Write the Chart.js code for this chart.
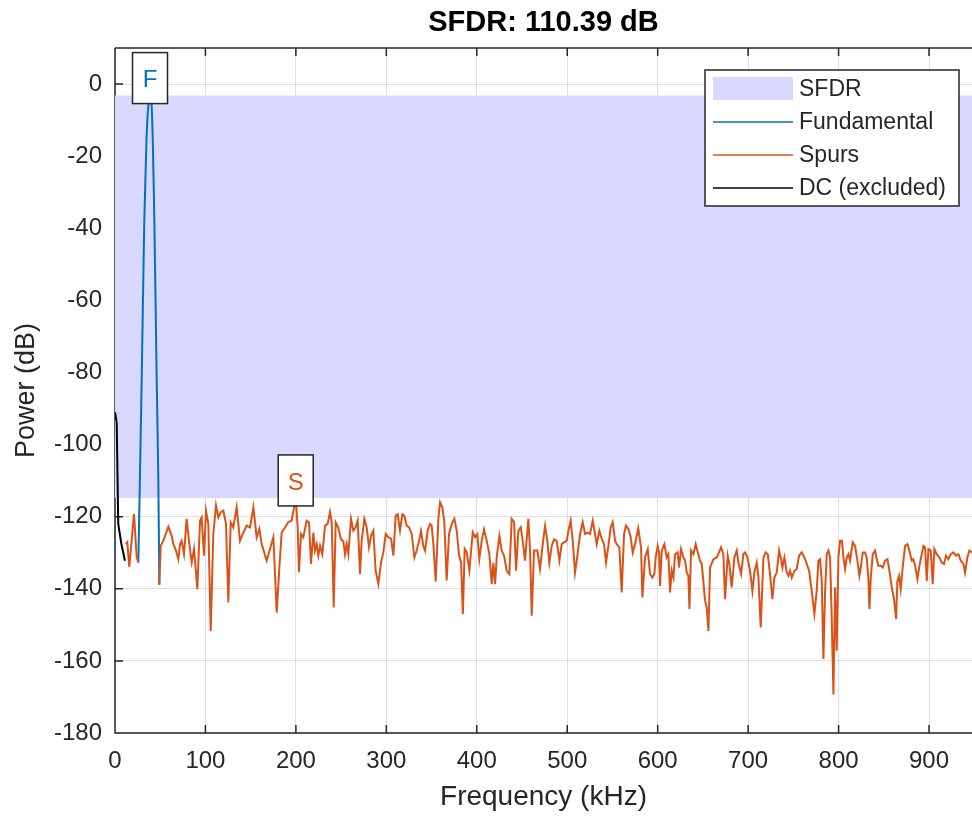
<!DOCTYPE html>
<html>
<head>
<meta charset="utf-8">
<script src="https://cdn.jsdelivr.net/npm/chart.js@4"></script>
<style>
  body { margin: 0; background: #fff; }
  canvas { display: block; }
</style>
</head>
<body>
<canvas id="sfdrChart" width="972" height="817"></canvas>
<script>
const titleText = 'SFDR: 110.39 dB';
const xTicks = [0, 100, 200, 300, 400, 500, 600, 700, 800, 900];
const yTicks = [-180, -160, -140, -120, -100, -80, -60, -40, -20, 0];

// DC (excluded)
const dcFreq = [0, 1.9, 3.6, 7.0, 11.0];
const dcPower = [-91, -94, -122, -127.5, -132.2];

// Fundamental lobe
const fundFreq = [25.8, 27.1, 29.5, 32.4, 34.8, 37.0, 38.7, 40.4, 42.0, 43.5, 46.1, 47.9, 49.0];
const fundPower = [-132.7, -115.4, -82.1, -37.7, -15.5, -5.5, -3.2, -5.5, -18.2, -37.7, -82.1, -109.9, -138.9];

// Spurs (null = bins of the fundamental)
const spurFreq = [12.0, 13.6, 15.8, 18.4, 21.0, 24.0, 25.8, 37.0,
  49.0, 50.5, 53.4, 59.0, 62.7, 64.5, 67.4, 70.0, 71.9, 73.7, 76.3, 79.2, 82.2, 84.8, 87.4, 91.0, 94.0, 95.8, 98.4,
  100.6, 103.2, 105.8, 108.7, 111.7, 114.3, 116.8, 119.8, 122.7, 125.3, 127.9, 130.8, 134.5, 138.2, 141.9, 145.6,
  149.3, 153.0, 156.6, 159.6, 162.2, 167.7, 175.1, 178.8, 181.7, 184.3, 188.0, 191.7, 195.3, 199.8, 202.0, 203.4,
  205.7, 208.2, 211.9, 214.5, 216.7, 219.3, 221.1, 223.0, 224.8, 226.7, 229.2, 232.2, 235.1, 237.7, 239.6, 241.8,
  244.0, 246.9, 249.9, 252.5, 254.3, 256.2, 258.0, 260.9, 263.5, 266.1, 268.3, 270.9, 272.7, 275.7, 278.3, 280.8,
  283.1, 285.6, 288.2, 291.2, 294.1, 296.7, 299.3, 302.2, 305.2, 307.8, 310.3, 312.5, 315.1, 317.7, 319.9, 322.5,
  325.1, 328.0, 331.0, 333.6, 336.1, 338.3, 340.9, 342.8, 345.7, 348.3, 350.1, 352.0, 354.6, 357.5, 359.4, 361.9,
  364.1, 366.7, 369.3, 372.3, 375.2, 377.8, 380.4, 382.6, 384.6, 386.6, 388.8, 391.8, 395.5, 398.1, 400.6, 402.8,
  405.4, 408.0, 411.0, 413.9, 416.5, 418.3, 420.2, 422.0, 425.0, 427.5, 430.1, 433.1, 436.0, 438.6, 441.2, 443.4,
  446.0, 448.6, 450.8, 453.3, 457.0, 458.9, 460.7, 463.3, 467.0, 469.9, 472.9, 475.5, 478.0, 480.2, 482.8, 485.4,
  488.4, 491.3, 493.9, 496.5, 499.4, 501.3, 503.8, 506.1, 508.6, 511.2, 514.2, 517.1, 519.7, 522.3, 525.2, 528.2,
  530.7, 532.6, 535.5, 538.1, 540.7, 542.9, 545.5, 548.1, 550.3, 552.9, 554.7, 557.6, 560.2, 562.8, 565.0, 567.6,
  570.2, 572.4, 575.0, 578.5, 581.6, 583.1, 586.0, 589.0, 591.5, 594.1, 596.3, 597.8, 600.0, 601.5, 602.6, 604.5,
  607.4, 610.0, 611.8, 613.7, 615.5, 617.4, 619.2, 622.1, 623.6, 625.8, 628.4, 630.3, 632.1, 633.9, 635.1, 636.9,
  639.5, 642.0, 644.3, 646.8, 648.7, 652.4, 654.2, 656.1, 657.9, 661.6, 665.3, 667.8, 670.1, 672.6, 674.5, 677.4,
  679.3, 681.8, 684.8, 687.4, 689.2, 692.2, 694.7, 696.6, 699.2, 702.1, 704.7, 706.9, 709.5, 711.3, 713.9, 716.9,
  719.4, 721.7, 724.2, 726.8, 729.0, 731.6, 734.2, 736.4, 737.9, 740.1, 742.7, 744.5, 746.3, 748.2, 751.1, 753.7,
  756.3, 759.2, 762.2, 764.8, 767.4, 770.3, 773.2, 775.8, 777.7, 779.5, 781.4, 783.2, 785.1, 786.9, 788.7, 790.6,
  792.4, 794.3, 796.1, 797.9, 799.8, 801.6, 803.8, 805.3, 807.2, 809.0, 810.9, 812.7, 815.6, 818.2, 820.8, 823.0,
  824.5, 826.7, 829.3, 831.1, 833.0, 834.1, 835.6, 837.8, 840.3, 842.2, 844.0, 846.6, 848.8, 851.4, 854.0, 856.2,
  858.8, 861.3, 863.6, 865.0, 866.9, 868.7, 870.9, 873.5, 876.1, 878.3, 880.9, 882.7, 884.6, 887.2, 889.4, 891.9,
  893.8, 895.6, 897.5, 899.3, 901.9, 904.1, 905.9, 908.5, 911.5, 914.0, 916.6, 918.8, 921.4, 924.0, 926.9, 929.9,
  932.5, 935.1, 938.0, 939.8, 942.4, 944.6, 947.2, 950.0];
const spurPower = [-127.6, -127.1, -133.9, -126.7, -119.3, -131.3, -132.7, null,
  -138.9, -128.1, -126.7, -122.8, -125.3, -127.6, -129.4, -131.8, -127.6, -126.7, -130.4, -120.6, -127.6, -132.7, -129.0, -140.1, -121.1, -120.2, -130.8,
  -118.3, -122.0, -151.7, -124.8, -116.9, -120.2, -118.8, -118.3, -122.0, -143.8, -121.6, -123.0, -117.4, -126.7, -124.4, -122.5,
  -123.0, -117.4, -125.7, -123.4, -127.6, -132.2, -125.7, -146.6, -134.1, -124.4, -123.0, -121.5, -121.1, -114.8, -123.0, -135.4,
  -124.8, -125.7, -121.1, -121.6, -133.1, -124.4, -129.4, -127.6, -130.8, -128.1, -130.4, -122.5, -122.0, -118.7, -121.5, -145.2,
  -121.6, -123.0, -126.3, -126.8, -130.4, -127.6, -130.4, -120.6, -123.9, -122.9, -121.1, -135.9, -126.7, -120.6, -123.0, -128.5,
  -125.3, -123.9, -135.0, -138.7, -132.7, -129.9, -124.8, -125.7, -126.1, -130.8, -119.7, -119.3, -123.9, -119.3, -119.7, -122.5,
  -123.0, -124.8, -131.3, -129.4, -126.7, -123.9, -128.1, -129.4, -123.9, -122.0, -122.5, -127.6, -138.0, -120.6, -116.0, -117.4,
  -121.5, -137.7, -124.8, -122.0, -120.6, -123.9, -130.8, -132.7, -147.0, -128.9, -129.8, -134.9, -124.3, -125.7, -124.8, -131.7,
  -126.7, -123.5, -126.7, -130.4, -138.7, -132.8, -138.7, -131.3, -125.3, -129.4, -130.8, -135.0, -135.9, -120.6, -121.5, -135.0,
  -123.9, -122.9, -126.7, -132.2, -120.6, -129.4, -147.5, -129.4, -129.4, -134.5, -127.6, -122.5, -126.7, -132.8, -128.1, -126.3,
  -126.7, -132.2, -127.6, -127.1, -126.7, -123.9, -121.1, -126.7, -135.5, -130.8, -124.8, -121.5, -124.8, -124.4, -124.8, -121.1,
  -124.8, -127.6, -123.9, -126.1, -127.6, -132.7, -128.1, -123.0, -121.5, -126.7, -127.6, -128.5, -141.0, -124.8, -122.5, -123.4,
  -125.7, -130.0, -127.6, -123.2, -128.5, -142.4, -131.3, -129.0, -135.9, -136.9, -135.9, -131.3, -128.1, -129.9, -139.2, -129.4,
  -127.6, -131.3, -130.4, -141.0, -135.0, -136.9, -130.4, -129.9, -134.1, -129.0, -131.3, -132.2, -135.5, -136.4, -145.6, -129.4,
  -130.4, -127.6, -129.9, -132.2, -133.1, -143.3, -145.2, -151.7, -134.1, -131.8, -131.3, -129.9, -128.5, -130.4, -142.9, -130.8,
  -133.1, -139.6, -131.3, -129.4, -132.7, -135.9, -130.4, -129.9, -131.3, -135.0, -140.6, -135.5, -132.7, -136.4, -150.7, -131.3,
  -129.9, -130.4, -135.9, -142.9, -136.9, -135.5, -129.4, -131.8, -134.1, -131.3, -135.5, -136.4, -135.0, -136.9, -135.0, -134.5,
  -130.8, -129.9, -131.3, -133.1, -135.0, -140.6, -147.0, -140.6, -132.2, -131.8, -137.8, -159.5, -140.6, -130.4, -129.4, -131.3,
  -148.0, -169.3, -139.6, -157.2, -131.3, -126.7, -126.7, -131.3, -134.5, -131.3, -130.4, -132.2, -127.1, -128.1, -132.2, -136.4,
  -134.1, -129.9, -129.9, -131.3, -137.3, -145.6, -136.9, -130.4, -129.4, -131.8, -133.6, -133.6, -134.1, -132.2, -131.8, -135.0,
  -139.6, -142.9, -148.4, -137.8, -136.4, -140.1, -134.1, -128.1, -127.6, -129.4, -132.2, -131.8, -133.6, -137.3, -133.6, -130.4,
  -128.1, -128.5, -137.8, -129.0, -129.4, -138.7, -129.0, -130.4, -131.3, -132.7, -133.1, -130.8, -131.8, -130.4, -129.9, -130.8,
  -130.4, -132.2, -133.1, -135.5, -131.3, -129.4, -129.9, -129.5];

// SFDR band and the two markers
const fundMarker = { freq: 38.7, power: -3.2, label: 'F' };
const spurMarker = { freq: 199.8, power: -114.8, label: 'S' };
const xMax = 947.5;

const FONT = '"Liberation Sans", Arial, Helvetica, sans-serif';
const AXIS = '#262626';
const BLUE = 'rgb(0,114,189)';
const ORANGE = 'rgb(217,83,25)';
const BAND = 'rgb(217,217,255)';

const toPts = (xs, ys) => xs.map((x, i) => ({ x: x, y: ys[i] }));

const decor = {
  id: 'decor',
  beforeDatasetsDraw(chart) {
    const { ctx, chartArea: a, scales: { x, y } } = chart;
    ctx.save();
    ctx.strokeStyle = AXIS;
    ctx.lineWidth = 1.5;
    ctx.beginPath();
    ctx.moveTo(a.left, a.top); ctx.lineTo(a.right, a.top);
    ctx.moveTo(a.left, a.top); ctx.lineTo(a.left, a.bottom);
    ctx.lineTo(a.right, a.bottom);
    xTicks.forEach(v => {
      const px = x.getPixelForValue(v);
      ctx.moveTo(px, a.bottom); ctx.lineTo(px, a.bottom - 8);
      ctx.moveTo(px, a.top); ctx.lineTo(px, a.top + 8);
    });
    yTicks.forEach(v => {
      const py = y.getPixelForValue(v);
      ctx.moveTo(a.left, py); ctx.lineTo(a.left + 8, py);
    });
    ctx.stroke();
    ctx.restore();
  },
  afterDatasetsDraw(chart) {
    const { ctx, chartArea: a, scales: { x, y } } = chart;
    ctx.save();
    // markers
    [[fundMarker, BLUE], [spurMarker, ORANGE]].forEach(([m, col]) => {
      const px = x.getPixelForValue(m.freq);
      const py = y.getPixelForValue(m.power);
      ctx.fillStyle = '#fff';
      ctx.fillRect(px - 17.5, py - 43, 35, 51);
      ctx.strokeStyle = AXIS;
      ctx.lineWidth = 1.5;
      ctx.strokeRect(px - 17.5, py - 43, 35, 51);
      ctx.fillStyle = col;
      ctx.font = '24px ' + FONT;
      ctx.textAlign = 'center';
      ctx.textBaseline = 'middle';
      ctx.fillText(m.label, px, py - 15);
    });
    // legend
    const lx = 705, ly = 70, lw = 254, lh = 136;
    ctx.fillStyle = '#fff';
    ctx.fillRect(lx, ly, lw, lh);
    ctx.strokeStyle = AXIS;
    ctx.lineWidth = 1.5;
    ctx.strokeRect(lx, ly, lw, lh);
    const items = chart.data.datasets.map(d => d).sort((p, q) => p.legendRank - q.legendRank);
    const rowY = [89, 122, 155, 188];
    ctx.font = '23px ' + FONT;
    ctx.textAlign = 'left';
    ctx.textBaseline = 'middle';
    items.forEach((d, i) => {
      const ry = rowY[i];
      if (d.legendRank === 0) {
        ctx.fillStyle = d.backgroundColor;
        ctx.fillRect(lx + 8, ry - 12, 80, 23);
      } else {
        ctx.strokeStyle = d.borderColor;
        ctx.lineWidth = 1.5;
        ctx.beginPath();
        ctx.moveTo(lx + 8, ry); ctx.lineTo(lx + 88, ry);
        ctx.stroke();
      }
      ctx.fillStyle = AXIS;
      ctx.fillText(d.label, lx + 94, ry + 1);
    });
    // title
    ctx.fillStyle = '#000';
    ctx.font = 'bold 29px ' + FONT;
    ctx.textAlign = 'center';
    ctx.fillText(titleText, (a.left + a.right) / 2, 23);
    ctx.restore();
  }
};

new Chart(document.getElementById('sfdrChart'), {
  type: 'line',
  data: {
    datasets: [
      { label: 'DC (excluded)', legendRank: 3, data: toPts(dcFreq, dcPower), borderColor: '#000', borderWidth: 2, pointRadius: 0, fill: false },
      { label: 'Spurs', legendRank: 2, data: toPts(spurFreq, spurPower), borderColor: ORANGE, borderWidth: 2, pointRadius: 0, fill: false, spanGaps: false },
      { label: 'Fundamental', legendRank: 1, data: toPts(fundFreq, fundPower), borderColor: BLUE, borderWidth: 2, pointRadius: 0, fill: false, cubicInterpolationMode: 'monotone' },
      { label: 'SFDR', legendRank: 0, data: [{ x: 0, y: fundMarker.power }, { x: xMax, y: fundMarker.power }],
        borderWidth: 0, borderColor: BAND, backgroundColor: BAND, pointRadius: 0, fill: { value: spurMarker.power } }
    ]
  },
  options: {
    responsive: false,
    devicePixelRatio: 1,
    animation: false,
    events: [],
    layout: { padding: { top: 48, left: 0, right: 0, bottom: 0 } },
    plugins: { legend: { display: false }, tooltip: { enabled: false }, title: { display: false } },
    scales: {
      x: {
        type: 'linear', min: 0, max: xMax,
        afterFit: s => { s.height = 84; },
        afterBuildTicks: s => { s.ticks = xTicks.map(v => ({ value: v })); },
        grid: { color: 'rgba(38,38,38,0.15)', lineWidth: 1, drawTicks: false },
        border: { display: false },
        ticks: { color: AXIS, font: { family: FONT, size: 24 }, padding: 14, maxRotation: 0, autoSkip: false },
        title: { display: true, text: 'Frequency (kHz)', color: AXIS, font: { family: FONT, size: 28 }, padding: { top: 4, bottom: 3 } }
      },
      y: {
        type: 'linear', min: -180, max: 10,
        afterFit: s => { s.width = 115; },
        afterBuildTicks: s => { s.ticks = yTicks.map(v => ({ value: v })); },
        grid: { color: 'rgba(38,38,38,0.15)', lineWidth: 1, drawTicks: false },
        border: { display: false },
        ticks: { color: AXIS, font: { family: FONT, size: 24 }, padding: 13, autoSkip: false },
        title: { display: true, text: 'Power (dB)', color: AXIS, font: { family: FONT, size: 27 }, padding: { top: 10, bottom: 4 } }
      }
    }
  },
  plugins: [decor]
});
</script>
</body>
</html>
